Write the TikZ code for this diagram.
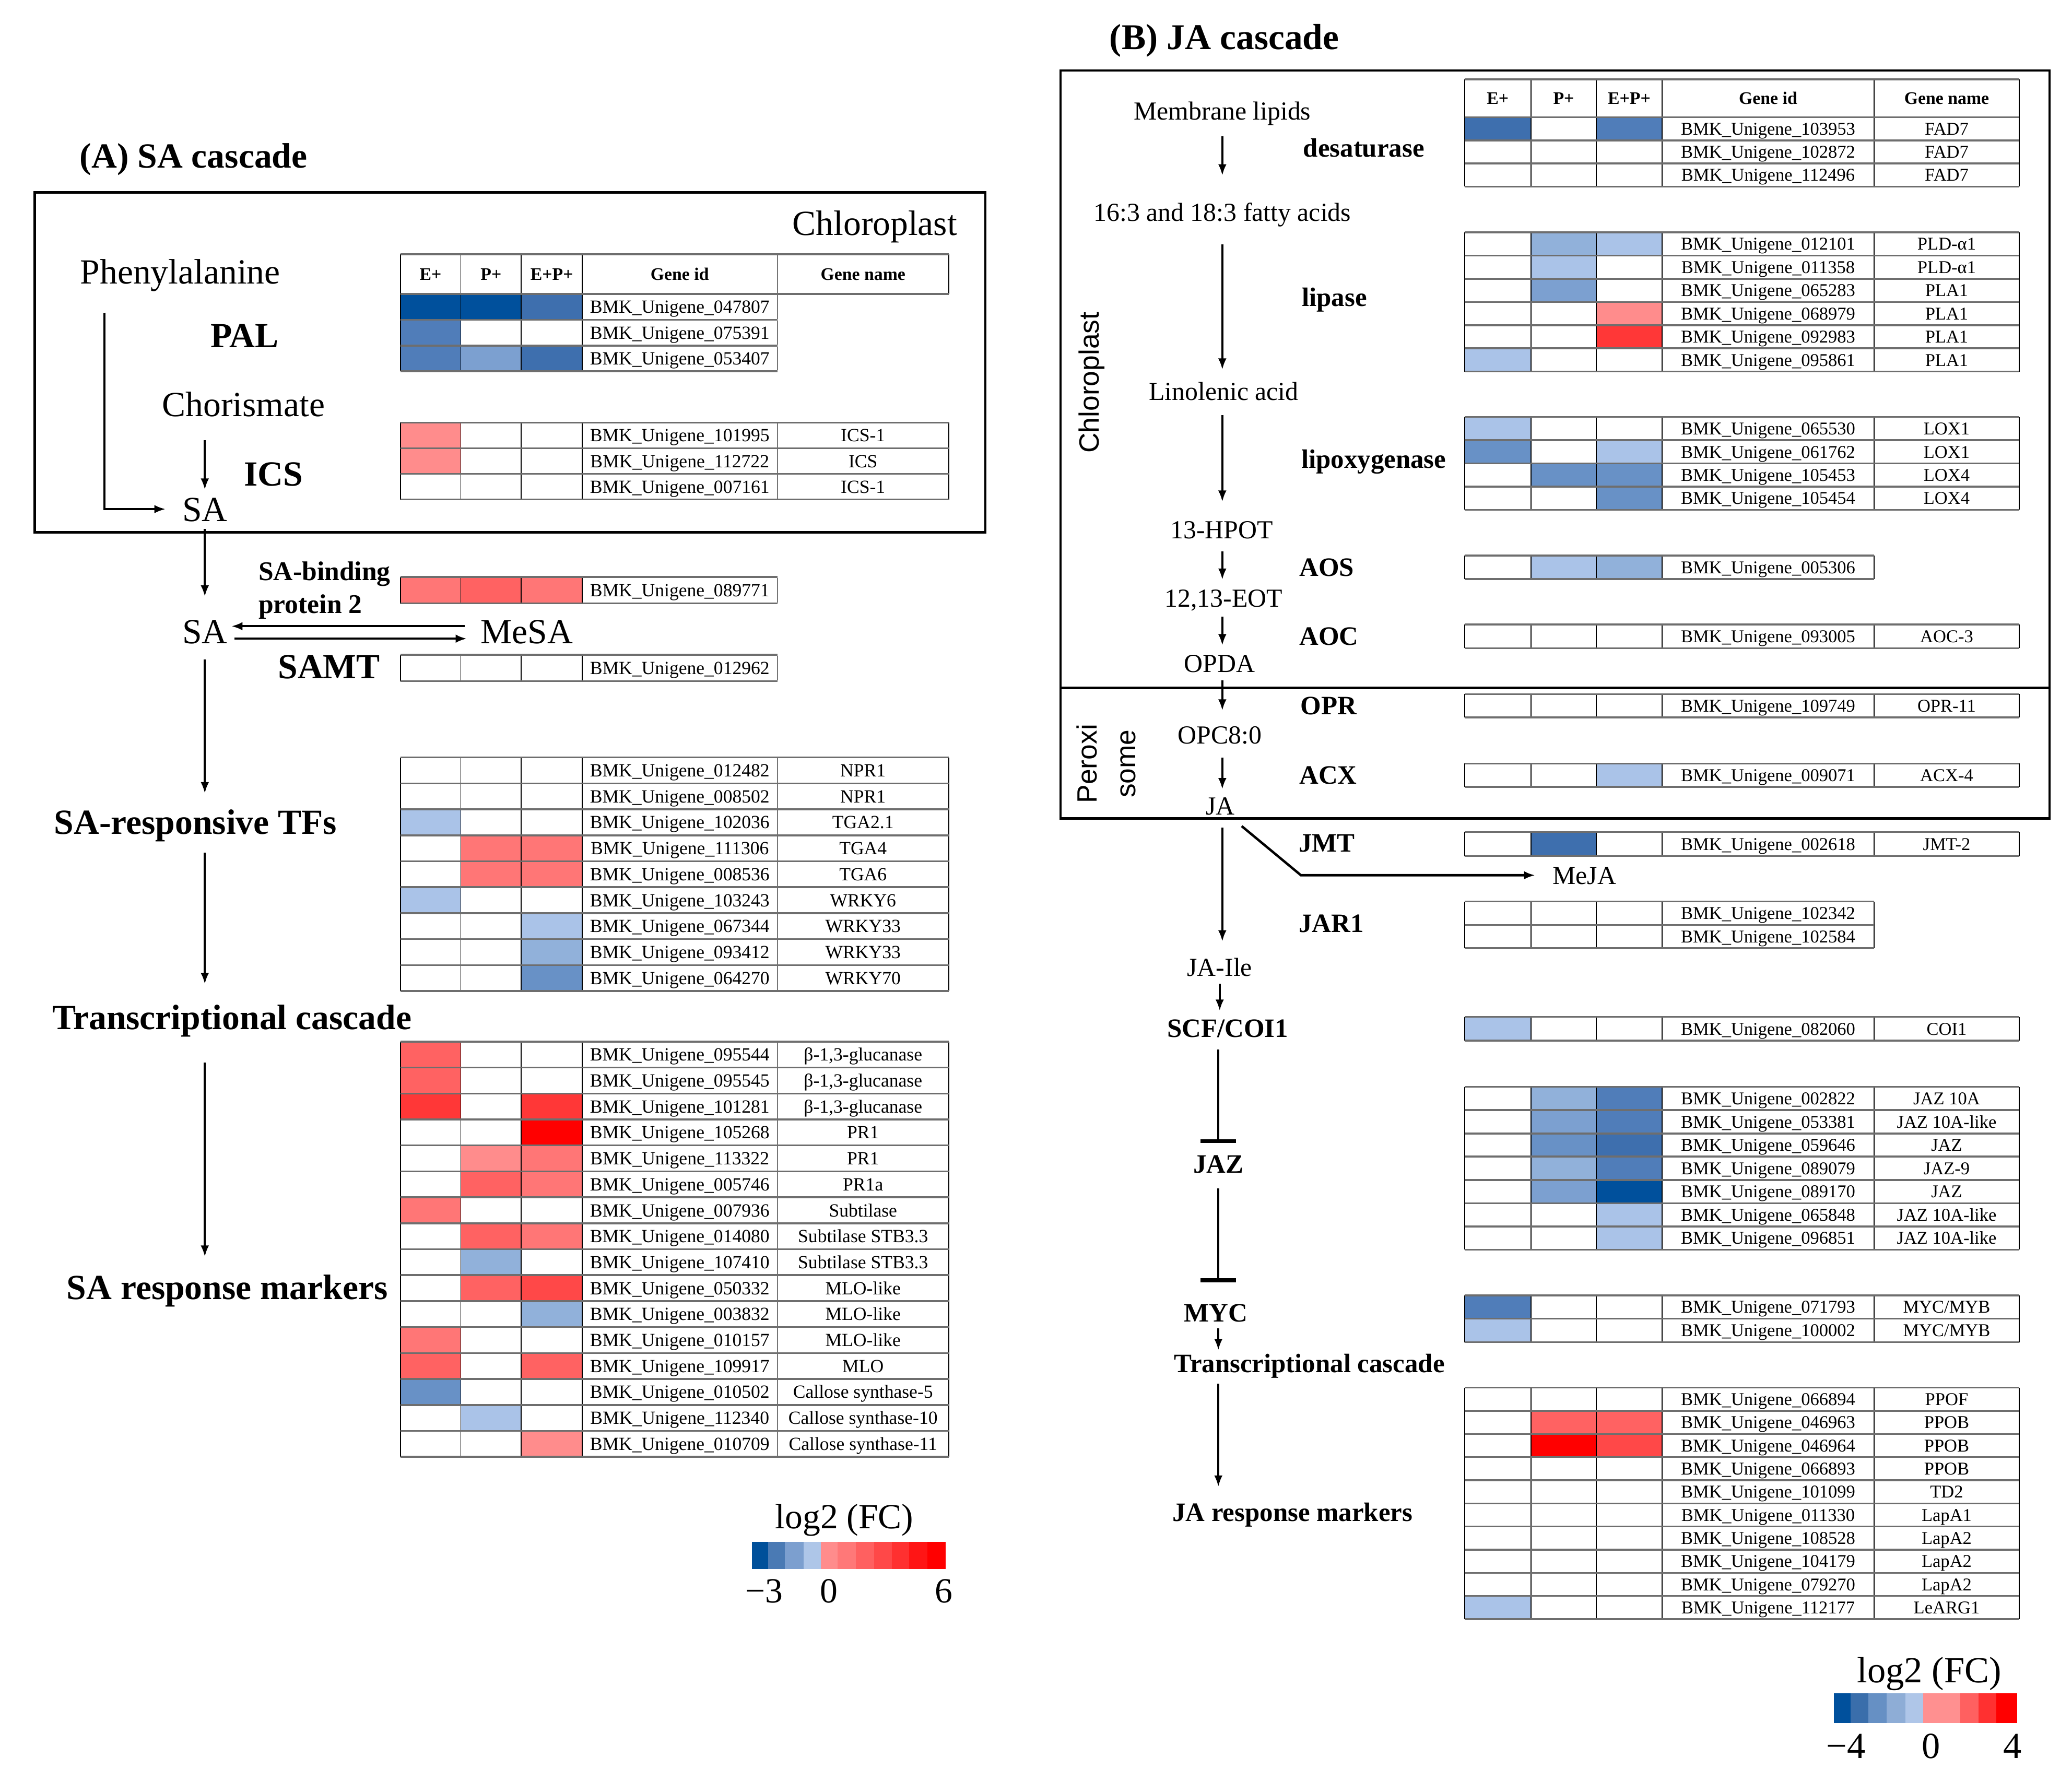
\documentclass[tikz,border=0pt]{standalone}
\usepackage{fontspec}
\setmainfont{Liberation Serif}
\newfontfamily\sansf{Liberation Sans}
\usetikzlibrary{arrows.meta}

\definecolor{B1}{RGB}{0,80,156}
\definecolor{B2}{RGB}{62,111,174}
\definecolor{B3}{RGB}{80,125,185}
\definecolor{B4}{RGB}{104,145,198}
\definecolor{B5}{RGB}{124,160,208}
\definecolor{B6}{RGB}{145,177,218}
\definecolor{B7}{RGB}{170,195,232}
\definecolor{R1}{RGB}{255,140,140}
\definecolor{R2}{RGB}{255,118,118}
\definecolor{R3}{RGB}{255,98,98}
\definecolor{R4}{RGB}{255,72,72}
\definecolor{R5}{RGB}{255,55,55}
\definecolor{R6}{RGB}{255,0,0}
\colorlet{W}{white}
\definecolor{tline}{RGB}{110,110,110}

\newcommand\bglu{β-1,3-glucanase}
\newcommand\mycmyb{MYC/MYB}

% table with gene-name column: top, row height, list c1/c2/c3/id/name
\newcommand\tabrowsN[3]{%
  \foreach \ca/\cb/\cc/\gid/\gname [count=\i from 0] in {#3}{
    \pgfmathsetmacro\yt{#1+\i*#2}\pgfmathsetmacro\yb{#1+(\i+1)*#2}
    \fill[\ca] (\xA,\yt) rectangle (\xB,\yb);
    \fill[\cb] (\xB,\yt) rectangle (\xC,\yb);
    \fill[\cc] (\xC,\yt) rectangle (\xD,\yb);
  }
  \foreach \ca/\cb/\cc/\gid/\gname [count=\i from 0] in {#3}{
    \pgfmathsetmacro\yt{#1+\i*#2}\pgfmathsetmacro\yb{#1+(\i+1)*#2}
    \pgfmathsetmacro\ym{#1+(\i+0.5)*#2}
    \foreach \xx in {\xA,\xB,\xC,\xD,\xE,\xF} \draw[vline] (\xx,\yt) -- (\xx,\yb);
    \draw[hline] (\xA,\yt) -- (\xF,\yt) (\xA,\yb) -- (\xF,\yb);
    \node[cell] (g\gid) at ({(\xD+\xE)/2},\ym) {BMK\_Unigene\_\gid};
    \node[cell] (n\gid) at ({(\xE+\xF)/2},\ym) {\gname};
  }
}
% table without gene-name column: top, row height, list c1/c2/c3/id
\newcommand\tabrowsS[3]{%
  \foreach \ca/\cb/\cc/\gid [count=\i from 0] in {#3}{
    \pgfmathsetmacro\yt{#1+\i*#2}\pgfmathsetmacro\yb{#1+(\i+1)*#2}
    \fill[\ca] (\xA,\yt) rectangle (\xB,\yb);
    \fill[\cb] (\xB,\yt) rectangle (\xC,\yb);
    \fill[\cc] (\xC,\yt) rectangle (\xD,\yb);
  }
  \foreach \ca/\cb/\cc/\gid [count=\i from 0] in {#3}{
    \pgfmathsetmacro\yt{#1+\i*#2}\pgfmathsetmacro\yb{#1+(\i+1)*#2}
    \pgfmathsetmacro\ym{#1+(\i+0.5)*#2}
    \foreach \xx in {\xA,\xB,\xC,\xD,\xE} \draw[vline] (\xx,\yt) -- (\xx,\yb);
    \draw[hline] (\xA,\yt) -- (\xE,\yt) (\xA,\yb) -- (\xE,\yb);
    \node[cell] (g\gid) at ({(\xD+\xE)/2},\ym) {BMK\_Unigene\_\gid};
  }
}
% header row: top, bottom
\newcommand\tabhead[3]{%
  \foreach \xx in {\xA,\xB,\xC,\xD,\xE,\xF} \draw[vline] (\xx,#1) -- (\xx,#2);
  \draw[hline] (\xA,#1) -- (\xF,#1) (\xA,#2) -- (\xF,#2);
  \pgfmathsetmacro\ym{(#1+#2)/2}
  \node[hcell] (#3a) at ({(\xA+\xB)/2},\ym) {E+};
  \node[hcell] (#3b) at ({(\xB+\xC)/2},\ym) {P+};
  \node[hcell] (#3c) at ({(\xC+\xD)/2},\ym) {E+P+};
  \node[hcell] (#3d) at ({(\xD+\xE)/2},\ym) {Gene id};
  \node[hcell] (#3e) at ({(\xE+\xF)/2},\ym) {Gene name};
}

\tikzset{
  lab/.style={font=\fontsize{19}{22}\selectfont, inner sep=0, text height=13pt, text depth=0pt},
  blab/.style={font=\bfseries\fontsize{19}{22}\selectfont, inner sep=0, text height=13pt, text depth=0pt},
  mlab/.style={font=\bfseries\fontsize{14.5}{16}\selectfont, inner sep=0, text height=10pt, text depth=0pt},
  rlab/.style={font=\fontsize{14}{16}\selectfont, inner sep=0, text height=9.8pt, text depth=0pt},
  rblab/.style={font=\bfseries\fontsize{14.3}{16}\selectfont, inner sep=0, text height=9.8pt, text depth=0pt},
  vlab/.style={font=\sansf\fontsize{15}{17}\selectfont, inner sep=0, rotate=90},
  leglab/.style={font=\fontsize{19}{22}\selectfont, inner sep=0, text height=13pt, text depth=0pt},
  cellL/.style={font=\fontsize{10}{11}\selectfont, inner sep=0, text height=6.8pt, text depth=0pt},
  cellR/.style={font=\fontsize{9.7}{11}\selectfont, inner sep=0, text height=6.6pt, text depth=0pt},
  hcell/.style={font=\bfseries\fontsize{9.5}{11}\selectfont, inner sep=0},
  hline/.style={draw=tline, line width=1pt},
  vline/.style={draw=black, line width=0.5pt},
  arr/.style={-{Latex[length=6pt,width=4.5pt]}, line width=1pt},
  tbar/.style={-{Bar[width=19pt,line width=2.2pt]}, line width=1pt},
  frame/.style={draw=black, line width=1.3pt},
}

\begin{document}
\begin{tikzpicture}[x=0.025cm,y=-0.025cm]
\useasboundingbox (0,0) rectangle (1568,1347.5);

% ================= (A) SA cascade =================
\node[blab] (tA) at (146.5,117.7) {(A) SA cascade};
\draw[frame] (26.3,145.6) rectangle (745.6,402.9);
\node[lab] (chl) at (662,169) {Chloroplast};
\node[lab] (phe) at (136.4,205.6) {Phenylalanine};
\node[blab] (pal) at (185,254) {PAL};
\node[lab] (cho) at (184.3,305.8) {Chorismate};
\node[blab] (ics) at (207,358.5) {ICS};
\node[lab] (sa1) at (155,385.3) {SA};
\node[mlab, anchor=west] (sab1) at (195.4,432) {SA-binding};
\node[mlab, anchor=west] (sab2) at (195.4,457) {protein 2};
\node[lab] (sa2) at (155,478) {SA};
\node[lab] (mesa) at (398.7,478) {MeSA};
\node[blab] (samt) at (249,504.4) {SAMT};
\node[blab] (tfs) at (148,622) {SA-responsive TFs};
\node[blab] (tc) at (175.5,770) {Transcriptional cascade};
\node[blab] (sam) at (172,974.1) {SA response markers};

\coordinate (phL) at (79,236.5);
\draw[arr, shorten >=8.8pt] (phL) |- (sa1.west);
\draw[arr, shorten <=12.7pt, shorten >=3.8pt] (cho.south -| sa1.north) -- (sa1.north);
\draw[arr, shorten <=4pt, shorten >=12.2pt] (sa1.south) -- (sa2.north);
\draw[arr, line width=1.2pt, shorten <=8.4pt, shorten >=1.9pt] ([yshift=2.9pt]mesa.west) -- ([yshift=2.9pt]sa2.east);
\draw[arr, line width=1.2pt, shorten <=3.5pt, shorten >=7.3pt] ([yshift=-3.8pt]sa2.east) -- ([yshift=-3.8pt]mesa.west);
\draw[arr, shorten <=8.4pt, shorten >=8.7pt] (sa2.south) -- (sa2.south |- tfs.north);
\draw[arr, shorten <=9.9pt, shorten >=11.3pt] (tfs.south -| sa2.south) -- (tc.north -| sa2.south);
\draw[arr, shorten <=17.7pt, shorten >=9.7pt] (tc.south -| sa2.south) -- (sam.north -| sa2.south);

% tables A
\tikzset{cell/.style={cellL}}
\def\xA{303}\def\xB{348.7}\def\xC{394.5}\def\xD{440.6}\def\xE{588.2}\def\xF{718}
\tabhead{192.5}{222.5}{hA}
\tabrowsS{222.5}{19.5}{B1/B1/B2/047807, B3/W/W/075391, B3/B5/B2/053407}
\tabrowsN{319.8}{19.4}{R1/W/W/101995/ICS-1, R1/W/W/112722/ICS, W/W/W/007161/ICS-1}
\tabrowsS{436.6}{20}{R2/R3/R2/089771}
\tabrowsS{495.5}{20}{W/W/W/012962}
\tabrowsN{573.2}{19.65}{W/W/W/012482/NPR1, W/W/W/008502/NPR1, B7/W/W/102036/TGA2.1,
  W/R2/R2/111306/TGA4, W/R2/R2/008536/TGA6, B7/W/W/103243/WRKY6,
  W/W/B7/067344/WRKY33, W/W/B6/093412/WRKY33, W/W/B4/064270/WRKY70}
\tabrowsN{788.3}{19.64}{R3/W/W/095544/\bglu, R3/W/W/095545/\bglu, R5/W/R5/101281/\bglu,
  W/W/R6/105268/PR1, W/R1/R2/113322/PR1, W/R3/R2/005746/PR1a, R2/W/W/007936/Subtilase,
  W/R3/R2/014080/Subtilase STB3.3, W/B6/W/107410/Subtilase STB3.3, W/R3/R4/050332/MLO-like,
  W/W/B6/003832/MLO-like, R2/W/W/010157/MLO-like, R3/W/R3/109917/MLO,
  B4/W/W/010502/Callose synthase-5, W/B7/W/112340/Callose synthase-10,
  W/W/R1/010709/Callose synthase-11}

% legend A
\definecolor{LA1}{HTML}{00509A}\definecolor{LA2}{HTML}{4A7AB4}\definecolor{LA3}{HTML}{7C9FCF}
\definecolor{LA4}{HTML}{AEC6E8}\definecolor{LA5}{HTML}{FF8C8C}\definecolor{LA6}{HTML}{FF7878}
\definecolor{LA7}{HTML}{FF6060}\definecolor{LA8}{HTML}{FF4848}\definecolor{LA9}{HTML}{FF3030}
\definecolor{LA10}{HTML}{FF1515}\definecolor{LA11}{HTML}{FF0000}
\foreach \xa/\xb/\col in {569.1/581.2/LA1, 581.2/594.0/LA2, 594.0/608.0/LA3, 608.0/621.0/LA4,
  621.0/633.9/LA5, 633.9/647.7/LA6, 647.7/661.6/LA7, 661.6/674.8/LA8, 674.8/687.9/LA9,
  687.9/701.8/LA10, 701.8/715.6/LA11}
  \fill[\col] (\xa,1167) rectangle (\xb,1187.5);
\node[leglab] (lgA) at (639,1147.8) {log2 (FC)};
\node[leglab] (lgAm) at (578.4,1203.7) {−3};
\node[leglab] (lgA0) at (627.2,1203.7) {0};
\node[leglab] (lgAp) at (714.3,1203.7) {6};

% ================= (B) JA cascade =================
\node[blab, font=\bfseries\fontsize{19.5}{22}\selectfont] (tB) at (926.5,28.2) {(B) JA cascade};
\draw[frame] (802.6,53.4) rectangle (1551,619.5);
\draw[frame] (802.6,520.7) -- (1551,520.7);
\node[vlab] (chl2) at (826,289.5) {Chloroplast};
\node[vlab] (per1) at (822.5,578) {Peroxi};
\node[vlab] (per2) at (853.7,578) {some};

\node[rlab] (mem) at (925,83.6) {Membrane lipids};
\node[rblab, anchor=west] (des) at (986,111.9) {desaturase};
\node[rlab] (fa) at (925,160.3) {16:3 and 18:3 fatty acids};
\node[rblab, anchor=west] (lip) at (985,224.8) {lipase};
\node[rlab] (lin) at (926,296) {Linolenic acid};
\node[rblab, anchor=west] (lox) at (984.5,347.5) {lipoxygenase};
\node[rlab] (hpot) at (924.5,400.9) {13-HPOT};
\node[rblab, anchor=west] (aos) at (983,429) {AOS};
\node[rlab] (eot) at (926,452.3) {12,13-EOT};
\node[rblab, anchor=west] (aoc) at (983,481.5) {AOC};
\node[rlab] (opda) at (923,501.7) {OPDA};
\node[rblab, anchor=west] (opr) at (984,534) {OPR};
\node[rlab] (opc) at (923,556.1) {OPC8:0};
\node[rblab, anchor=west] (acx) at (983,586.4) {ACX};
\node[rlab] (ja) at (923.5,609.6) {JA};
\node[rblab, anchor=west] (jmt) at (982.6,637.8) {JMT};
\node[rlab] (meja) at (1199,662.4) {MeJA};
\node[rblab, anchor=west] (jar) at (982.6,698.8) {JAR1};
\node[rlab] (jaile) at (923,732) {JA-Ile};
\node[rblab] (scf) at (929,778) {SCF/COI1};
\node[rblab] (jaz) at (922,880.8) {JAZ};
\node[rblab] (myc) at (920,993.3) {MYC};
\node[rblab, anchor=west] (jtc) at (888.4,1031.6) {Transcriptional cascade};
\node[rblab, anchor=west] (jam) at (887,1144.5) {JA response markers};

\draw[arr, shorten <=8.9pt, shorten >=14.5pt] (mem.south) -- (fa.north -| mem.south);
\draw[arr, shorten <=12.3pt, shorten >=6.5pt] (fa.south) -- (lin.north -| fa.south);
\draw[arr, shorten <=7.9pt, shorten >=10pt] (lin.south -| fa.south) -- (hpot.north -| fa.south);
\draw[arr, shorten <=6.5pt, shorten >=4.6pt] (hpot.south -| fa.south) -- (eot.north -| fa.south);
\draw[arr, shorten <=5.1pt, shorten >=4.4pt] (eot.south -| fa.south) -- (opda.north -| fa.south);
\draw[arr, shorten <=4.4pt, shorten >=8pt] (opda.south -| fa.south) -- (opc.north -| fa.south);
\draw[arr, shorten <=7.1pt, shorten >=3.7pt] (opc.south -| fa.south) -- (ja.north -| fa.south);
\draw[arr, shorten <=6.8pt, shorten >=8.8pt] (ja.south -| fa.south) -- (jaile.north -| fa.south);
\coordinate (jbend) at (984.5,662.4);
\draw[arr, line width=1.3pt, shorten >=9.2pt] ([shift={(3.5pt,-6pt)}]ja.south east) -- (jbend) -- (meja.west);
\draw[arr, shorten <=3.9pt, shorten >=4.2pt] (jaile.south) -- (scf.north -| jaile.south);
\draw[tbar, shorten <=6.5pt, shorten >=6pt] (scf.south -| jaz.north) -- (jaz.north);
\draw[tbar, shorten <=8pt, shorten >=11.1pt] (jaz.south) -- (myc.north -| jaz.south);
\draw[arr, shorten <=3.3pt, shorten >=1.9pt] (myc.south -| jaz.south) -- (jtc.north -| jaz.south);
\draw[arr, shorten <=6pt, shorten >=8.7pt] (jtc.south -| jaz.south) -- (jam.north -| jaz.south);

% tables B
\tikzset{cell/.style={cellR}}
\def\xA{1108.4}\def\xB{1158.5}\def\xC{1208.1}\def\xD{1257.7}\def\xE{1418.3}\def\xF{1528}
\tabhead{60}{88.7}{hB}
\tabrowsN{88.7}{17.5}{B2/W/B3/103953/FAD7, W/W/W/102872/FAD7, W/W/W/112496/FAD7}
\tabrowsN{175.8}{17.57}{W/B6/B7/012101/PLD-α1, W/B7/W/011358/PLD-α1, W/B5/W/065283/PLA1,
  W/W/R1/068979/PLA1, W/W/R5/092983/PLA1, B7/W/W/095861/PLA1}
\tabrowsN{315.6}{17.55}{B7/W/W/065530/LOX1, B4/W/B7/061762/LOX1, W/B4/B4/105453/LOX4, W/W/B4/105454/LOX4}
\tabrowsS{420.4}{17.8}{W/B7/B6/005306}
\tabrowsN{472.5}{18}{W/W/W/093005/AOC-3}
\tabrowsN{525.3}{17.7}{W/W/W/109749/OPR-11}
\tabrowsN{577.9}{17.5}{W/W/B7/009071/ACX-4}
\tabrowsN{629.6}{18.3}{W/B2/W/002618/JMT-2}
\tabrowsS{682.3}{17.7}{W/W/W/102342, W/W/W/102584}
\tabrowsN{769.6}{18}{B7/W/W/082060/COI1}
\tabrowsN{822.6}{17.59}{W/B6/B3/002822/JAZ 10A, W/B5/B3/053381/JAZ 10A-like, W/B4/B2/059646/JAZ,
  W/B6/B3/089079/JAZ-9, W/B5/B1/089170/JAZ, W/W/B7/065848/JAZ 10A-like, W/W/B7/096851/JAZ 10A-like}
\tabrowsN{980.3}{17.75}{B3/W/W/071793/\mycmyb, B7/W/W/100002/\mycmyb}
\tabrowsN{1050.2}{17.52}{W/W/W/066894/PPOF, W/R3/R3/046963/PPOB, W/R6/R4/046964/PPOB,
  W/W/W/066893/PPOB, W/W/W/101099/TD2, W/W/W/011330/LapA1, W/W/W/108528/LapA2,
  W/W/W/104179/LapA2, W/W/W/079270/LapA2, B7/W/W/112177/LeARG1}

% legend B
\definecolor{LB1}{HTML}{00509C}\definecolor{LB2}{HTML}{3A6EAB}\definecolor{LB3}{HTML}{6690C4}
\definecolor{LB4}{HTML}{8EADD6}\definecolor{LB5}{HTML}{AFC6E8}\definecolor{LB6}{HTML}{FF9090}
\definecolor{LB7}{HTML}{FF6060}\definecolor{LB8}{HTML}{FF3030}\definecolor{LB9}{HTML}{FF0000}
\foreach \xa/\xb/\col in {1387.7/1400.6/LB1, 1400.6/1413.7/LB2, 1413.7/1427.8/LB3, 1427.8/1441.8/LB4,
  1441.8/1455.4/LB5, 1455.4/1483.6/LB6, 1483.6/1497.2/LB7, 1497.2/1510.8/LB8, 1510.8/1526.5/LB9}
  \fill[\col] (\xa,1281.4) rectangle (\xb,1304);
\node[leglab, font=\fontsize{19.8}{22}\selectfont] (lgB) at (1460,1264.3) {log2 (FC)};
\node[leglab, font=\fontsize{19.8}{22}\selectfont] (lgBm) at (1397,1321.6) {−4};
\node[leglab, font=\fontsize{19.8}{22}\selectfont] (lgB0) at (1461.4,1321.6) {0};
\node[leglab, font=\fontsize{19.8}{22}\selectfont] (lgBp) at (1523,1321.6) {4};
\end{tikzpicture}
\end{document}
